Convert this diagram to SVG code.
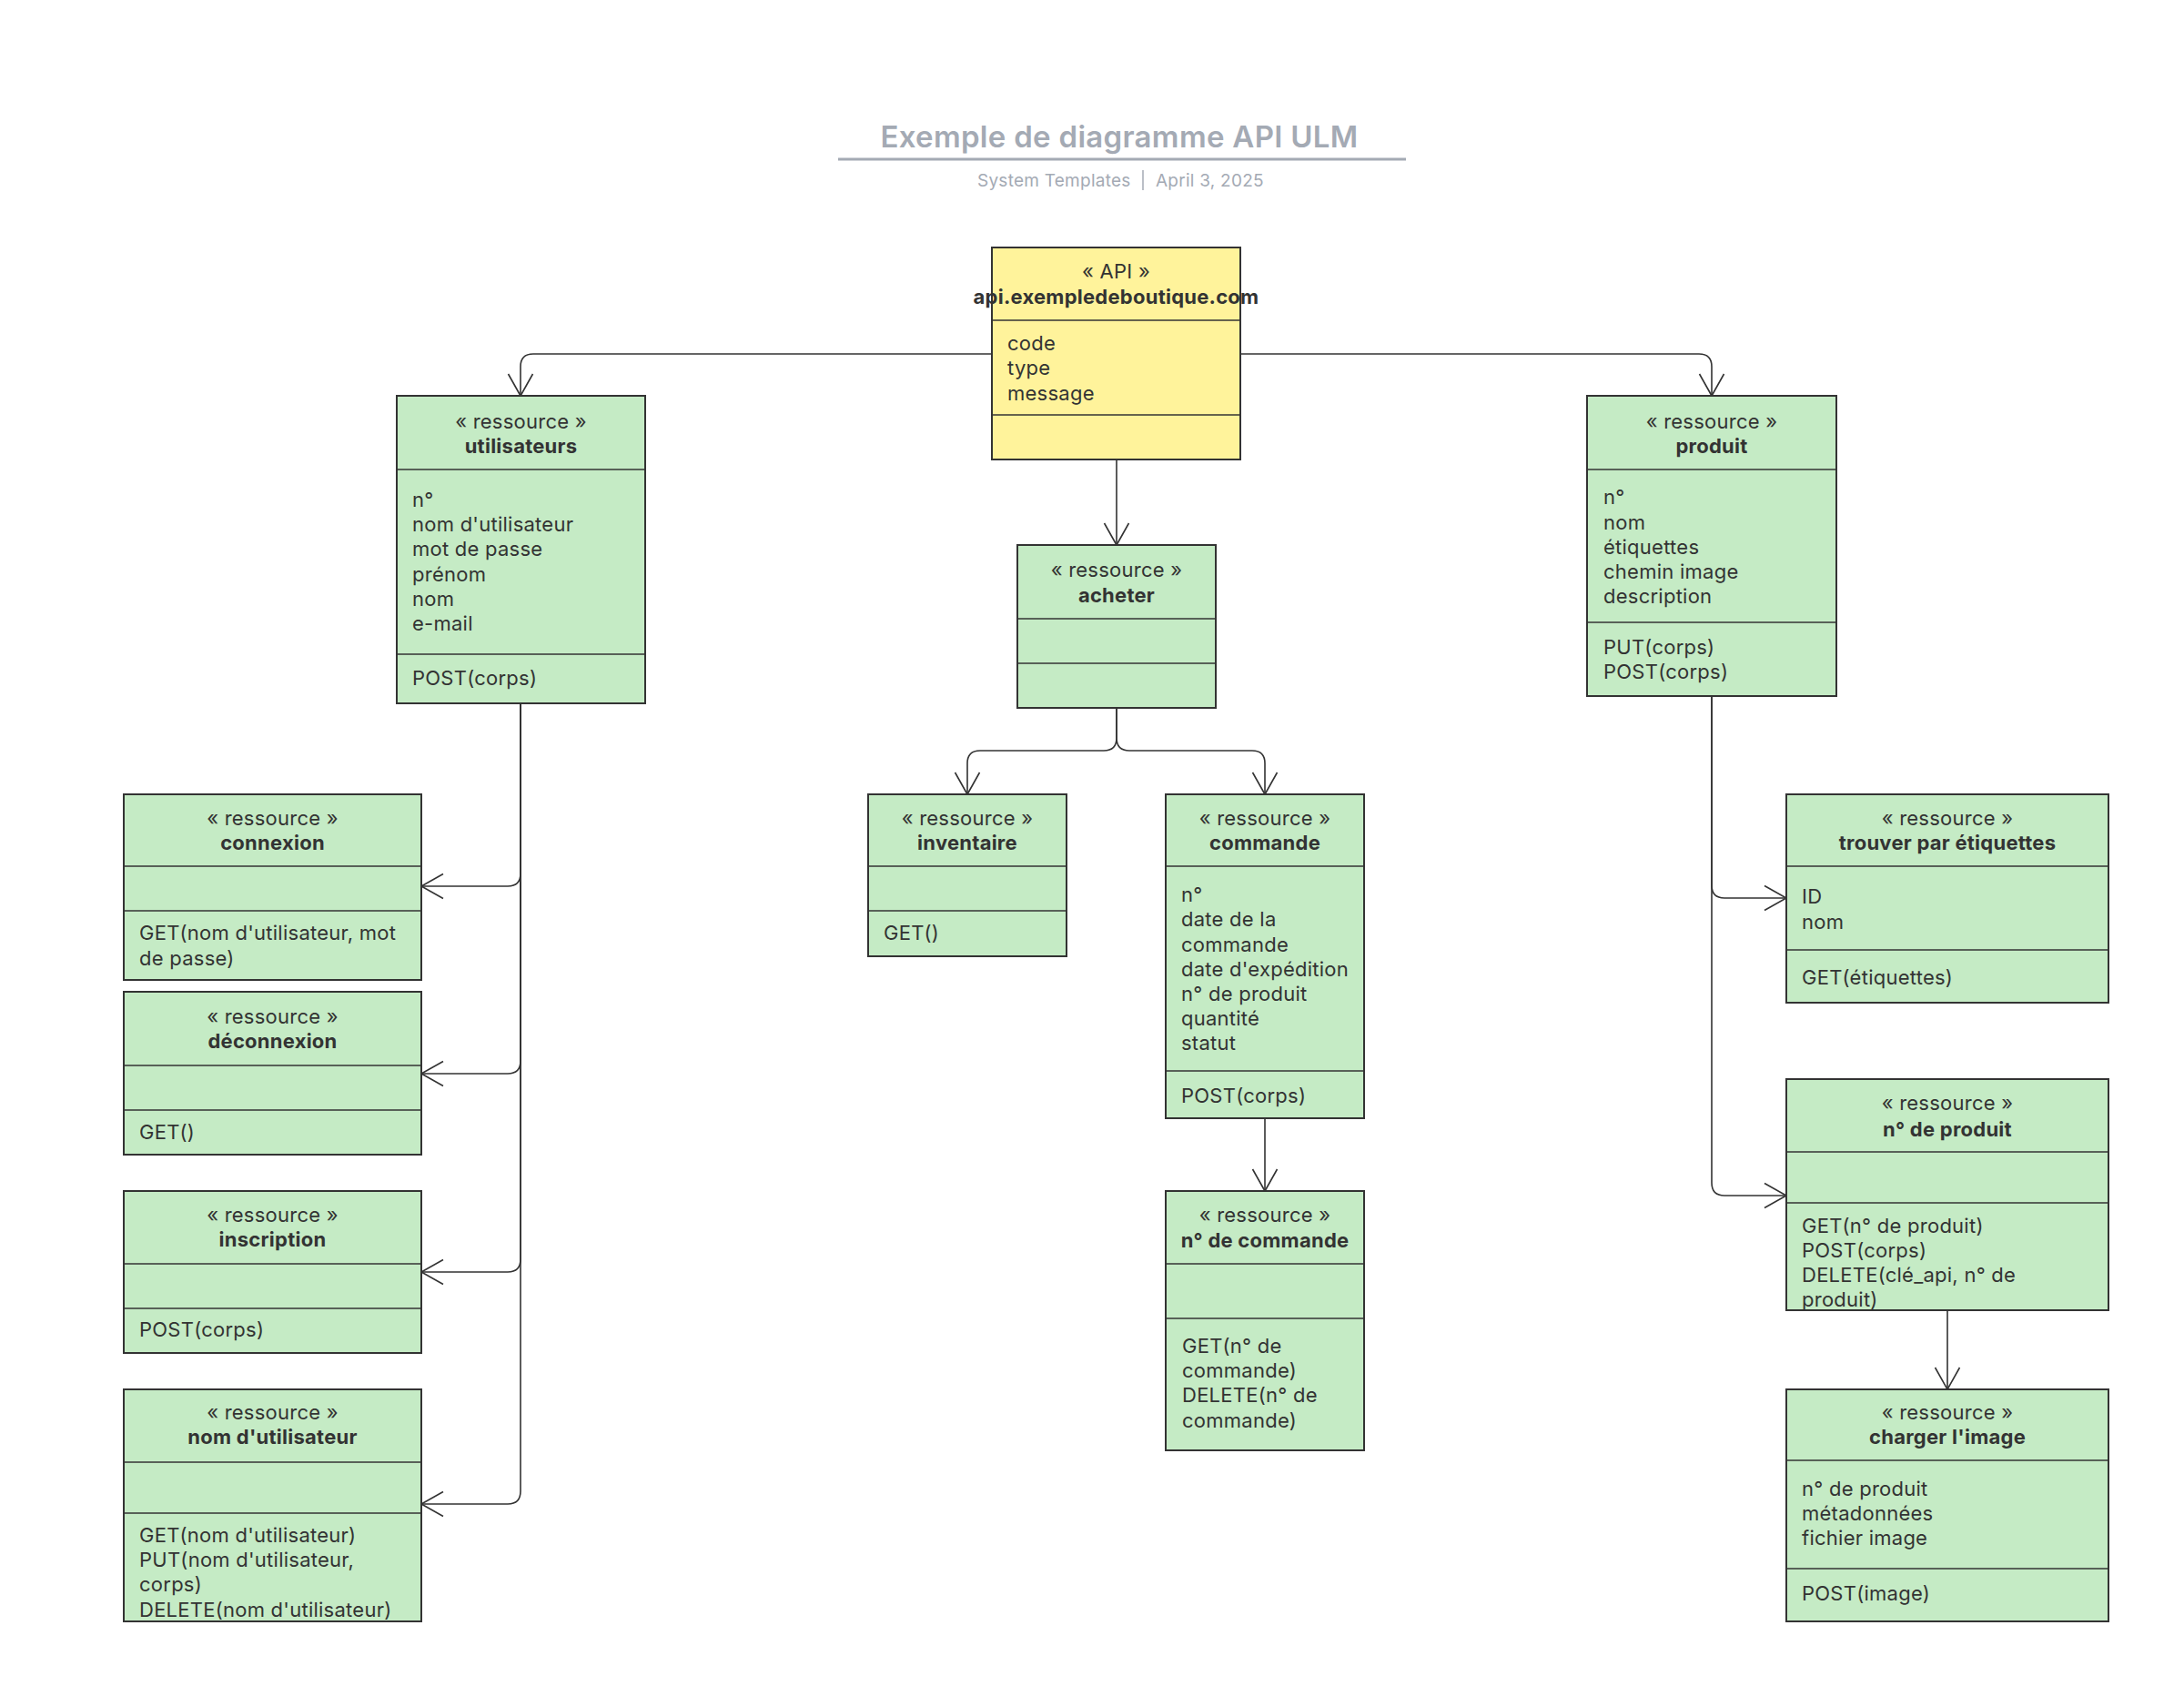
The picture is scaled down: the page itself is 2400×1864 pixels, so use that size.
<svg xmlns="http://www.w3.org/2000/svg" width="2400" height="1864" viewBox="0 0 2400 1864">
<style>
.bg{fill:#ffffff}
.box{fill:#c5ebc5;stroke:#333333;stroke-width:2}
.api{fill:#fff39b;stroke:#333333;stroke-width:2}
.dv{stroke:#333333;stroke-width:1.6}
text{font-family:Inter,"Liberation Sans",sans-serif;font-size:22px;fill:#333333;letter-spacing:0.25px}
.st{text-anchor:middle}
.nm{text-anchor:middle;font-weight:700}
.title{font-size:33px;font-weight:600;fill:#a4aab4;text-anchor:middle;letter-spacing:0.3px}
.sub{font-size:19px;fill:#a4aab4}
.cn{fill:none;stroke:#333333;stroke-width:1.6}
</style>
<defs>
<marker id="arr" viewBox="-26 -15 28 30" refX="0" refY="0" markerWidth="28" markerHeight="30" markerUnits="userSpaceOnUse" orient="auto">
<path d="M-24,-13.5 L0,0 L-24,13.5" fill="none" stroke="#333333" stroke-width="1.6"/>
</marker>
</defs>
<rect class="bg" x="0" y="0" width="2400" height="1864"/>

<g id="header">
<text class="title" x="1230" y="162">Exemple de diagramme API ULM</text>
<line x1="921" y1="175" x2="1545" y2="175" stroke="#a4aab4" stroke-width="3"/>
<text class="sub" x="1074" y="205">System Templates</text>
<line x1="1256" y1="187" x2="1256" y2="209" stroke="#a4aab4" stroke-width="1.5"/>
<text class="sub" x="1270" y="205">April 3, 2025</text>
</g>

<g id="connectors">
<path class="cn" marker-end="url(#arr)" d="M1090,389 H586 Q572,389 572,403 V435"/>
<path class="cn" marker-end="url(#arr)" d="M1363,389 H1867 Q1881,389 1881,403 V435"/>
<path class="cn" marker-end="url(#arr)" d="M1227,505 V599"/>
<path class="cn" marker-end="url(#arr)" d="M1227,778 V811 Q1227,825 1213,825 H1077 Q1063,825 1063,839 V873"/>
<path class="cn" marker-end="url(#arr)" d="M1227,778 V811 Q1227,825 1241,825 H1376 Q1390,825 1390,839 V873"/>
<path class="cn" marker-end="url(#arr)" d="M1390,1229 V1309"/>
<path class="cn" marker-end="url(#arr)" d="M572,773 V960 Q572,974 558,974 H463"/>
<path class="cn" marker-end="url(#arr)" d="M572,773 V1166 Q572,1180 558,1180 H463"/>
<path class="cn" marker-end="url(#arr)" d="M572,773 V1384 Q572,1398 558,1398 H463"/>
<path class="cn" marker-end="url(#arr)" d="M572,773 V1639 Q572,1653 558,1653 H463"/>
<path class="cn" marker-end="url(#arr)" d="M1881,765 V973 Q1881,987 1895,987 H1963"/>
<path class="cn" marker-end="url(#arr)" d="M1881,765 V1300 Q1881,1314 1895,1314 H1963"/>
<path class="cn" marker-end="url(#arr)" d="M2140,1440 V1527"/>
</g>

<g id="api">
<rect class="api" x="1090" y="272" width="273" height="233"/>
<line class="dv" x1="1090" y1="352" x2="1363" y2="352"/>
<line class="dv" x1="1090" y1="456" x2="1363" y2="456"/>
<text class="st" x="1226.5" y="306">« API »</text>
<text class="nm" x="1226.5" y="334">api.exempledeboutique.com</text>
<text x="1107" y="385">code</text>
<text x="1107" y="412">type</text>
<text x="1107" y="440">message</text>
</g>

<g id="utilisateurs">
<rect class="box" x="436" y="435" width="273" height="338"/>
<line class="dv" x1="436" y1="516" x2="709" y2="516"/>
<line class="dv" x1="436" y1="719" x2="709" y2="719"/>
<text class="st" x="572.5" y="471">« ressource »</text>
<text class="nm" x="572.5" y="498">utilisateurs</text>
<text x="453" y="557">n°</text>
<text x="453" y="584">nom d'utilisateur</text>
<text x="453" y="611">mot de passe</text>
<text x="453" y="639">prénom</text>
<text x="453" y="666">nom</text>
<text x="453" y="693">e-mail</text>
<text x="453" y="753">POST(corps)</text>
</g>

<g id="produit">
<rect class="box" x="1744" y="435" width="274" height="330"/>
<line class="dv" x1="1744" y1="516" x2="2018" y2="516"/>
<line class="dv" x1="1744" y1="684" x2="2018" y2="684"/>
<text class="st" x="1881" y="471">« ressource »</text>
<text class="nm" x="1881" y="498">produit</text>
<text x="1762" y="554">n°</text>
<text x="1762" y="582">nom</text>
<text x="1762" y="609">étiquettes</text>
<text x="1762" y="636">chemin image</text>
<text x="1762" y="663">description</text>
<text x="1762" y="719">PUT(corps)</text>
<text x="1762" y="746">POST(corps)</text>
</g>

<g id="acheter">
<rect class="box" x="1118" y="599" width="218" height="179"/>
<line class="dv" x1="1118" y1="680" x2="1336" y2="680"/>
<line class="dv" x1="1118" y1="729" x2="1336" y2="729"/>
<text class="st" x="1227" y="634">« ressource »</text>
<text class="nm" x="1227" y="662">acheter</text>
</g>

<g id="inventaire">
<rect class="box" x="954" y="873" width="218" height="178"/>
<line class="dv" x1="954" y1="952" x2="1172" y2="952"/>
<line class="dv" x1="954" y1="1001" x2="1172" y2="1001"/>
<text class="st" x="1063" y="907">« ressource »</text>
<text class="nm" x="1063" y="934">inventaire</text>
<text x="971" y="1033">GET()</text>
</g>

<g id="commande">
<rect class="box" x="1281" y="873" width="218" height="356"/>
<line class="dv" x1="1281" y1="952" x2="1499" y2="952"/>
<line class="dv" x1="1281" y1="1177" x2="1499" y2="1177"/>
<text class="st" x="1390" y="907">« ressource »</text>
<text class="nm" x="1390" y="934">commande</text>
<text x="1298" y="991">n°</text>
<text x="1298" y="1018">date de la</text>
<text x="1298" y="1046">commande</text>
<text x="1298" y="1073">date d'expédition</text>
<text x="1298" y="1100">n° de produit</text>
<text x="1298" y="1127">quantité</text>
<text x="1298" y="1154">statut</text>
<text x="1298" y="1212">POST(corps)</text>
</g>

<g id="no-commande">
<rect class="box" x="1281" y="1309" width="218" height="285"/>
<line class="dv" x1="1281" y1="1389" x2="1499" y2="1389"/>
<line class="dv" x1="1281" y1="1449" x2="1499" y2="1449"/>
<text class="st" x="1390" y="1343">« ressource »</text>
<text class="nm" x="1390" y="1371">n° de commande</text>
<text x="1299" y="1487">GET(n° de</text>
<text x="1299" y="1514">commande)</text>
<text x="1299" y="1541">DELETE(n° de</text>
<text x="1299" y="1569">commande)</text>
</g>

<g id="connexion">
<rect class="box" x="136" y="873" width="327" height="204"/>
<line class="dv" x1="136" y1="952" x2="463" y2="952"/>
<line class="dv" x1="136" y1="1001" x2="463" y2="1001"/>
<text class="st" x="299.5" y="907">« ressource »</text>
<text class="nm" x="299.5" y="934">connexion</text>
<text x="153" y="1033">GET(nom d'utilisateur, mot</text>
<text x="153" y="1061">de passe)</text>
</g>

<g id="deconnexion">
<rect class="box" x="136" y="1090" width="327" height="179"/>
<line class="dv" x1="136" y1="1171" x2="463" y2="1171"/>
<line class="dv" x1="136" y1="1220" x2="463" y2="1220"/>
<text class="st" x="299.5" y="1125">« ressource »</text>
<text class="nm" x="299.5" y="1152">déconnexion</text>
<text x="153" y="1252">GET()</text>
</g>

<g id="inscription">
<rect class="box" x="136" y="1309" width="327" height="178"/>
<line class="dv" x1="136" y1="1389" x2="463" y2="1389"/>
<line class="dv" x1="136" y1="1438" x2="463" y2="1438"/>
<text class="st" x="299.5" y="1343">« ressource »</text>
<text class="nm" x="299.5" y="1370">inscription</text>
<text x="153" y="1469">POST(corps)</text>
</g>

<g id="nom-utilisateur">
<rect class="box" x="136" y="1527" width="327" height="255"/>
<line class="dv" x1="136" y1="1607" x2="463" y2="1607"/>
<line class="dv" x1="136" y1="1663" x2="463" y2="1663"/>
<text class="st" x="299.5" y="1560">« ressource »</text>
<text class="nm" x="299.5" y="1587">nom d'utilisateur</text>
<text x="153" y="1695">GET(nom d'utilisateur)</text>
<text x="153" y="1722">PUT(nom d'utilisateur,</text>
<text x="153" y="1749">corps)</text>
<text x="153" y="1777">DELETE(nom d'utilisateur)</text>
</g>

<g id="trouver">
<rect class="box" x="1963" y="873" width="354" height="229"/>
<line class="dv" x1="1963" y1="952" x2="2317" y2="952"/>
<line class="dv" x1="1963" y1="1044" x2="2317" y2="1044"/>
<text class="st" x="2140" y="907">« ressource »</text>
<text class="nm" x="2140" y="934">trouver par étiquettes</text>
<text x="1980" y="993">ID</text>
<text x="1980" y="1021">nom</text>
<text x="1980" y="1082">GET(étiquettes)</text>
</g>

<g id="no-produit">
<rect class="box" x="1963" y="1186" width="354" height="254"/>
<line class="dv" x1="1963" y1="1266" x2="2317" y2="1266"/>
<line class="dv" x1="1963" y1="1322" x2="2317" y2="1322"/>
<text class="st" x="2140" y="1220">« ressource »</text>
<text class="nm" x="2140" y="1249">n° de produit</text>
<text x="1980" y="1355">GET(n° de produit)</text>
<text x="1980" y="1382">POST(corps)</text>
<text x="1980" y="1409">DELETE(clé_api, n° de</text>
<text x="1980" y="1436">produit)</text>
</g>

<g id="charger">
<rect class="box" x="1963" y="1527" width="354" height="255"/>
<line class="dv" x1="1963" y1="1605" x2="2317" y2="1605"/>
<line class="dv" x1="1963" y1="1724" x2="2317" y2="1724"/>
<text class="st" x="2140" y="1560">« ressource »</text>
<text class="nm" x="2140" y="1587">charger l'image</text>
<text x="1980" y="1644">n° de produit</text>
<text x="1980" y="1671">métadonnées</text>
<text x="1980" y="1698">fichier image</text>
<text x="1980" y="1759">POST(image)</text>
</g>
</svg>
